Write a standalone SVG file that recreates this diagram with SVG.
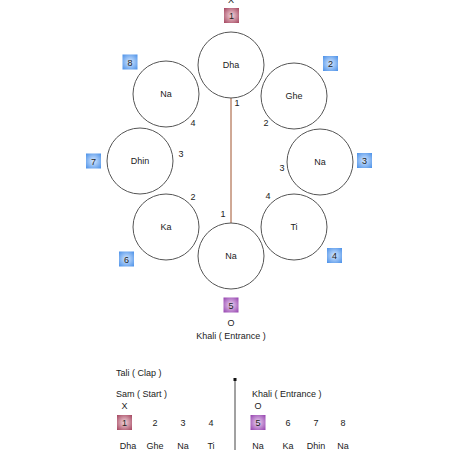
<svg xmlns="http://www.w3.org/2000/svg" width="450" height="450" viewBox="0 0 450 450">
<defs>
<radialGradient id="gRed" cx="50%" cy="50%" r="70%"><stop offset="0" stop-color="#f3d6dc"/><stop offset="1" stop-color="#a4445e"/></radialGradient>
<radialGradient id="gBlue" cx="50%" cy="50%" r="70%"><stop offset="0" stop-color="#d6e8ff"/><stop offset="1" stop-color="#4a90e8"/></radialGradient>
<radialGradient id="gPur" cx="50%" cy="50%" r="70%"><stop offset="0" stop-color="#ecd6f2"/><stop offset="1" stop-color="#9440ae"/></radialGradient>
</defs>
<style>
text{font-family:"Liberation Sans",Arial,sans-serif;font-size:9px;fill:#222}
.c{text-anchor:middle}
.node circle{fill:#fff;stroke:#555;stroke-width:1}
.b rect{stroke:none}
.red{fill:url(#gRed)}
.blue{fill:url(#gBlue)}
.pur{fill:url(#gPur)}
</style>
<rect width="450" height="450" fill="#fff"/>
<g id="connectors">
<line x1="231" y1="98" x2="231" y2="223" stroke="#a0522d" stroke-width="1"/>
<line x1="235" y1="380" x2="235" y2="450" stroke="#444" stroke-width="1"/>
<rect x="233.5" y="378" width="3" height="3" fill="#111"/>
</g>
<g id="node-dha" class="node"><circle cx="231" cy="65" r="33"/><text class="c" x="231" y="68">Dha</text></g>
<g id="node-ghe" class="node"><circle cx="294" cy="96" r="33"/><text class="c" x="294" y="99">Ghe</text></g>
<g id="node-na-right" class="node"><circle cx="320" cy="162" r="33"/><text class="c" x="320" y="165">Na</text></g>
<g id="node-ti" class="node"><circle cx="294" cy="227" r="33"/><text class="c" x="294" y="230">Ti</text></g>
<g id="node-na-bottom" class="node"><circle cx="231" cy="256" r="33"/><text class="c" x="231" y="259">Na</text></g>
<g id="node-ka" class="node"><circle cx="166" cy="227" r="33"/><text class="c" x="166" y="230">Ka</text></g>
<g id="node-dhin" class="node"><circle cx="140" cy="161" r="33"/><text class="c" x="140" y="164">Dhin</text></g>
<g id="node-na-left" class="node"><circle cx="166" cy="94" r="33"/><text class="c" x="166" y="97">Na</text></g>
<g id="labels">
<text class="c" x="237" y="106">1</text>
<text class="c" x="193" y="126">4</text>
<text class="c" x="266" y="126">2</text>
<text class="c" x="181" y="157">3</text>
<text class="c" x="282" y="171">3</text>
<text class="c" x="193" y="200">2</text>
<text class="c" x="268" y="199">4</text>
<text class="c" x="223" y="217">1</text>
</g>
<g id="badges" class="b">
<text class="c" x="231" y="3">X</text>
<rect class="red" x="224" y="8" width="15" height="15"/><text class="c" x="231.5" y="19">1</text>
<rect class="blue" x="323" y="56" width="15" height="15"/><text class="c" x="330.5" y="67">2</text>
<rect class="blue" x="357" y="153" width="15" height="15"/><text class="c" x="364.5" y="164">3</text>
<rect class="blue" x="327" y="248" width="15" height="15"/><text class="c" x="334.5" y="259">4</text>
<rect class="pur" x="223.5" y="297.5" width="15" height="15"/><text class="c" x="231" y="308.5">5</text>
<rect class="blue" x="119" y="251.5" width="15" height="15"/><text class="c" x="126.5" y="262.5">6</text>
<rect class="blue" x="86" y="153.5" width="15" height="15"/><text class="c" x="93.5" y="164.5">7</text>
<rect class="blue" x="122.5" y="54.5" width="15" height="15"/><text class="c" x="130" y="65.5">8</text>
<text class="c" x="231" y="325.5">O</text>
<text class="c" x="231" y="338.5">Khali ( Entrance )</text>
</g>
<g id="legend" class="b">
<text x="116" y="375.5">Tali ( Clap )</text>
<text x="116" y="396.5">Sam ( Start )</text>
<text class="c" x="124.5" y="408.5">X</text>
<rect class="red" x="117" y="415" width="15" height="15"/><text class="c" x="124.5" y="426">1</text>
<text class="c" x="155" y="426">2</text>
<text class="c" x="183" y="426">3</text>
<text class="c" x="211" y="426">4</text>
<text class="c" x="128" y="449">Dha</text>
<text class="c" x="155" y="449">Ghe</text>
<text class="c" x="183" y="449">Na</text>
<text class="c" x="211" y="449">Ti</text>
<text x="252" y="396.5">Khali ( Entrance )</text>
<text class="c" x="258" y="408.5">O</text>
<rect class="pur" x="250.5" y="415" width="15" height="15"/><text class="c" x="258" y="426">5</text>
<text class="c" x="288" y="426">6</text>
<text class="c" x="316" y="426">7</text>
<text class="c" x="343" y="426">8</text>
<text class="c" x="258" y="449">Na</text>
<text class="c" x="288" y="449">Ka</text>
<text class="c" x="316" y="449">Dhin</text>
<text class="c" x="343" y="449">Na</text>
</g>
</svg>
